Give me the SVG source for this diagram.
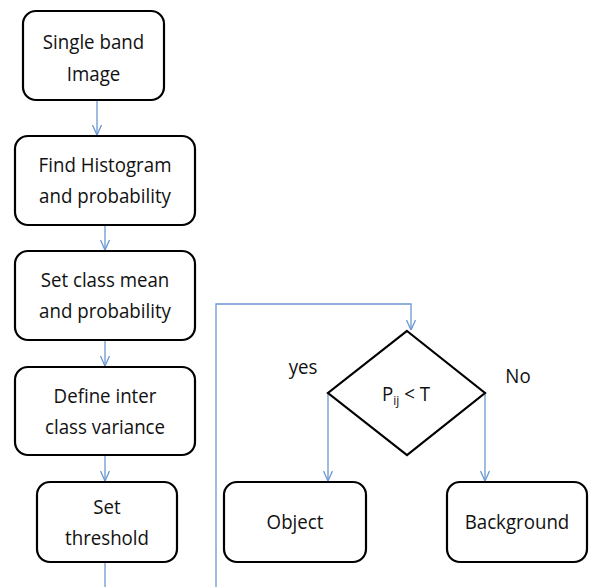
<svg xmlns="http://www.w3.org/2000/svg" width="589" height="587" viewBox="0 0 589 587">
<style>
.box{fill:#fff;stroke:#000;stroke-width:2.2}
.t{font-family:"Open Sans","Liberation Sans",sans-serif;font-size:18.7px;fill:#111;text-anchor:middle}
.c{fill:none;stroke:#6b97d2;stroke-width:1.3}
</style>
<defs>
<marker id="ah" viewBox="0 0 10 10" refX="10" refY="5" markerWidth="10" markerHeight="10" markerUnits="userSpaceOnUse" orient="auto">
<path d="M0,0.5 L10,5 L0,9.5" fill="none" stroke="#6b97d2" stroke-width="1.3"/>
</marker>
</defs>
<rect width="589" height="587" fill="#fff"/>
<g id="connectors">
<path class="c" d="M97,100 V135" marker-end="url(#ah)"/>
<path class="c" d="M105,225 V250" marker-end="url(#ah)"/>
<path class="c" d="M105,340 V366" marker-end="url(#ah)"/>
<path class="c" d="M105,455 V481" marker-end="url(#ah)"/>
<path class="c" d="M105,562 V587"/>
<path class="c" d="M216,587 V304 H411 V330" marker-end="url(#ah)"/>
<path class="c" d="M328,393 V481" marker-end="url(#ah)"/>
<path class="c" d="M485,393 V481" marker-end="url(#ah)"/>
</g>
<g id="n1"><rect class="box" x="23" y="11" width="141" height="89" rx="13"/>
<text class="t" transform="translate(93.5,49) scale(1,1.06)">Single band</text>
<text class="t" transform="translate(93.5,81) scale(1,1.06)">Image</text></g>
<g id="n2"><rect class="box" x="15" y="136" width="180" height="89" rx="13"/>
<text class="t" transform="translate(105,172) scale(1,1.06)">Find Histogram</text>
<text class="t" transform="translate(105,203) scale(1,1.06)">and probability</text></g>
<g id="n3"><rect class="box" x="15" y="251" width="180" height="89" rx="13"/>
<text class="t" transform="translate(105,287) scale(1,1.06)">Set class mean</text>
<text class="t" transform="translate(105,318) scale(1,1.06)">and probability</text></g>
<g id="n4"><rect class="box" x="15" y="367" width="180" height="88" rx="13"/>
<text class="t" transform="translate(105,403) scale(1,1.06)">Define inter</text>
<text class="t" transform="translate(105,434) scale(1,1.06)">class variance</text></g>
<g id="n5"><rect class="box" x="37" y="482" width="140" height="80" rx="13"/>
<text class="t" transform="translate(107,514) scale(1,1.06)">Set</text>
<text class="t" transform="translate(107,545) scale(1,1.06)">threshold</text></g>
<g id="decision"><path d="M407,331 L485,393 L407,455 L328,393 Z" fill="#fff" stroke="#000" stroke-width="2.2"/>
<text class="t" transform="translate(406,401) scale(1,1.06)">P<tspan font-size="12" dy="4">ij</tspan><tspan dy="-4"> &lt; T</tspan></text></g>
<g id="lyes"><text class="t" transform="translate(303,374) scale(1,1.06)">yes</text></g>
<g id="lno"><text class="t" transform="translate(518,383) scale(1,1.06)">No</text></g>
<g id="object"><rect class="box" x="224" y="482" width="142" height="80" rx="13"/>
<text class="t" transform="translate(295,529) scale(1,1.06)">Object</text></g>
<g id="background"><rect class="box" x="447" y="482" width="140" height="80" rx="13"/>
<text class="t" transform="translate(517,529) scale(1,1.06)">Background</text></g>
</svg>
